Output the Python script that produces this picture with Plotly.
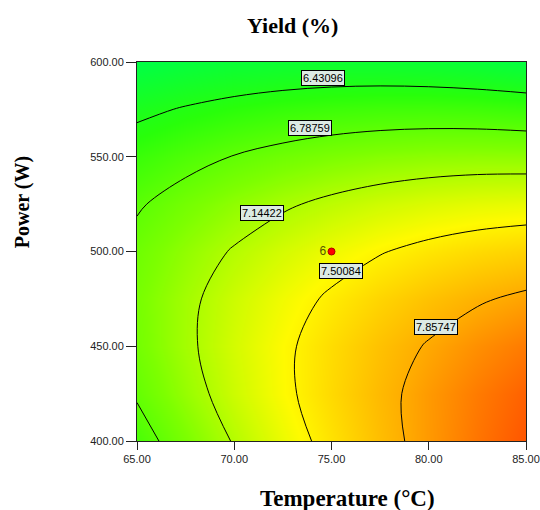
import plotly.graph_objects as go

# Temperature (°C) grid and Power (W) grid
temperature = [65, 67.5, 70, 72.5, 75, 77.5, 80, 82.5, 85]
power = [400, 425, 450, 475, 500, 525, 550, 575, 600]

# Yield (%), rows = power, cols = temperature
yield_z = [
    [6.674, 6.926, 7.162, 7.381, 7.584, 7.771, 7.942, 8.096, 8.234],
    [6.814, 7.042, 7.254, 7.450, 7.629, 7.792, 7.939, 8.070, 8.184],
    [6.893, 7.097, 7.285, 7.457, 7.613, 7.752, 7.875, 7.982, 8.073],
    [6.910, 7.091, 7.255, 7.403, 7.535, 7.651, 7.750, 7.833, 7.900],
    [6.866, 7.023, 7.164, 7.288, 7.396, 7.488, 7.564, 7.623, 7.666],
    [6.761, 6.894, 7.011, 7.112, 7.196, 7.264, 7.316, 7.352, 7.371],
    [6.595, 6.704, 6.797, 6.874, 6.935, 6.979, 7.007, 7.019, 7.015],
    [6.367, 6.453, 6.522, 6.575, 6.612, 6.633, 6.637, 6.625, 6.597],
    [6.078, 6.140, 6.186, 6.215, 6.228, 6.225, 6.206, 6.170, 6.118],
]

levels = [6.43096, 6.78759, 7.14422, 7.50084, 7.85747]
label_T = [74.55, 73.9, 71.45, 75.5, 80.35]
label_P = [591.5, 565.2, 520.4, 489.8, 460.2]

design_T = [75]
design_P = [500]
design_text = ["6"]

x_ticks = [65, 70, 75, 80, 85]
y_ticks = [400, 450, 500, 550, 600]

colorscale = [
    [0.0, "rgb(0,255,70)"],
    [0.2, "rgb(40,255,10)"],
    [0.4, "rgb(125,255,0)"],
    [0.64, "rgb(255,250,0)"],
    [0.82, "rgb(255,175,0)"],
    [1.0, "rgb(255,85,0)"],
]

zflat = [v for row in yield_z for v in row]

fig = go.Figure()
fig.add_trace(go.Contour(
    x=temperature, y=power, z=yield_z,
    colorscale=colorscale, showscale=False,
    zauto=False, zmin=min(zflat), zmax=max(zflat),
    autocontour=False,
    contours=dict(coloring="heatmap", start=levels[0], end=levels[-1] + 0.001,
                  size=levels[1] - levels[0], showlabels=False),
    line=dict(color="black", width=1, smoothing=1.0),
    hoverinfo="skip",
))
fig.add_trace(go.Scatter(
    x=design_T, y=design_P, mode="markers+text", text=design_text,
    textposition="middle left",
    textfont=dict(family="Arial", size=12, color="#555500"),
    marker=dict(color="red", size=7, line=dict(color="#aa0000", width=1)),
    hoverinfo="skip",
))

for lv, t, p in zip(levels, label_T, label_P):
    fig.add_annotation(x=t, y=p, text=f"{lv:.5f}", showarrow=False,
                       font=dict(family="Arial", size=11, color="black"),
                       bgcolor="rgb(220,234,228)", bordercolor="black",
                       borderwidth=1, borderpad=1)

title_font = dict(family="Liberation Serif", size=22, color="black")
fig.add_annotation(xref="paper", yref="paper", x=0.40, y=1.0, yshift=37,
                   text="<b>Yield (%)</b>", showarrow=False, font=title_font,
                   xanchor="center", yanchor="middle")
fig.add_annotation(xref="paper", yref="paper", x=0.54, y=0.0, yshift=-57,
                   text="<b>Temperature (°C)</b>", showarrow=False,
                   font=dict(family="Liberation Serif", size=23, color="black"),
                   xanchor="center", yanchor="middle")
fig.add_annotation(xref="paper", yref="paper", x=0.0, y=0.63, xshift=-115,
                   text="<b>Power (W)</b>", showarrow=False, textangle=-90,
                   font=dict(family="Liberation Serif", size=20, color="black"),
                   xanchor="center", yanchor="middle")

axis_common = dict(showline=True, linecolor="#222", linewidth=1, mirror=True,
                   ticks="outside", tickcolor="#222", showgrid=False,
                   zeroline=False, tickformat=".2f", ticklabeloverflow="allow",
                   tickfont=dict(family="Arial", size=11, color="#222"))
fig.update_xaxes(range=[65, 85], tickvals=x_ticks, ticklen=8, **axis_common)
fig.update_yaxes(range=[400, 600], tickvals=y_ticks, ticklen=10, **axis_common)

fig.update_layout(
    width=540, height=510,
    margin=dict(l=137, r=14, t=62, b=69, autoexpand=False),
    paper_bgcolor="white", plot_bgcolor="white",
    showlegend=False,
)
fig.write_html("out.html")
